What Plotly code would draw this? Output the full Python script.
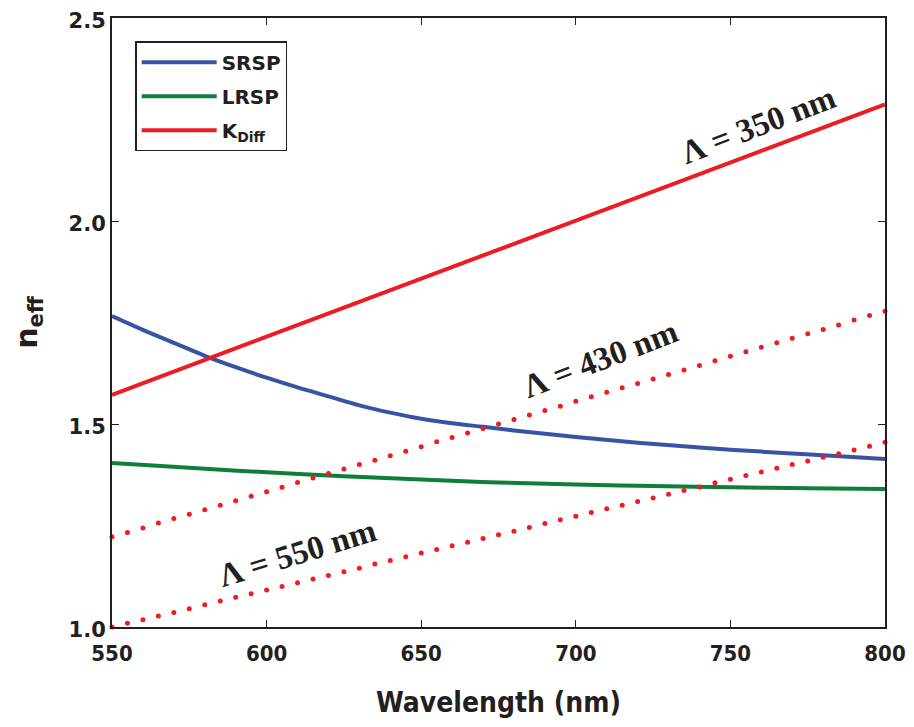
import plotly.graph_objects as go

# ---------------- data ----------------
wl_srsp = [550, 560, 570, 580, 590, 600, 610, 620, 630, 640, 650, 660, 670, 680, 690, 700, 720, 740, 760, 780, 800]
n_srsp = [1.766, 1.732, 1.700, 1.668, 1.640, 1.614, 1.590, 1.568, 1.546, 1.528, 1.513, 1.502, 1.493, 1.484, 1.476, 1.468, 1.454, 1.442, 1.432, 1.423, 1.414]

wl_lrsp = [550, 575, 600, 625, 650, 675, 700, 725, 750, 775, 800]
n_lrsp = [1.404, 1.392, 1.381, 1.371, 1.363, 1.356, 1.351, 1.347, 1.344, 1.342, 1.340]

wl_k350 = [550, 600, 650, 700, 750, 800]
n_k350 = [1.572, 1.715, 1.858, 2.001, 2.144, 2.287]

wl_dots = [550, 555, 560, 565, 570, 575, 580, 585, 590, 595,
           600, 605, 610, 615, 620, 625, 630, 635, 640, 645,
           650, 655, 660, 665, 670, 675, 680, 685, 690, 695,
           700, 705, 710, 715, 720, 725, 730, 735, 740, 745,
           750, 755, 760, 765, 770, 775, 780, 785, 790, 795, 800]
n_k430 = [1.222, 1.233, 1.244, 1.256, 1.267, 1.278, 1.289, 1.300, 1.311, 1.322,
          1.333, 1.344, 1.356, 1.367, 1.378, 1.389, 1.400, 1.411, 1.422, 1.433,
          1.444, 1.456, 1.467, 1.478, 1.489, 1.500, 1.511, 1.522, 1.533, 1.544,
          1.556, 1.567, 1.578, 1.589, 1.600, 1.611, 1.622, 1.633, 1.644, 1.656,
          1.667, 1.678, 1.689, 1.700, 1.711, 1.722, 1.733, 1.744, 1.756, 1.767, 1.778]
n_k550 = [1.000, 1.009, 1.018, 1.027, 1.036, 1.045, 1.055, 1.064, 1.073, 1.082,
          1.091, 1.100, 1.109, 1.118, 1.127, 1.136, 1.145, 1.155, 1.164, 1.173,
          1.182, 1.191, 1.200, 1.209, 1.218, 1.227, 1.236, 1.245, 1.255, 1.264,
          1.273, 1.282, 1.291, 1.300, 1.309, 1.318, 1.327, 1.336, 1.345, 1.355,
          1.364, 1.373, 1.382, 1.391, 1.400, 1.409, 1.418, 1.427, 1.436, 1.445, 1.455]

x_ticks = [550, 600, 650, 700, 750, 800]
y_ticks = [1.0, 1.5, 2.0, 2.5]

labels = ["Λ = 350 nm", "Λ = 430 nm", "Λ = 550 nm"]
label_x = [759, 708, 610]
label_y = [2.236, 1.660, 1.182]
label_angle = [-21, -21, -17]

BLUE = "#3953A4"
GREEN = "#0E7E3B"
RED = "#ED1C24"
INK = "#231F20"

fig = go.Figure()
fig.add_trace(go.Scatter(x=wl_srsp, y=n_srsp, mode="lines", name="SRSP",
                         line=dict(color=BLUE, width=4, shape="spline"),
                         legendgroup="a", cliponaxis=False))
fig.add_trace(go.Scatter(x=wl_lrsp, y=n_lrsp, mode="lines", name="LRSP",
                         line=dict(color=GREEN, width=4, shape="spline"),
                         legendgroup="b", cliponaxis=False))
fig.add_trace(go.Scatter(x=wl_k350, y=n_k350, mode="lines", name="K<sub>Diff</sub>",
                         line=dict(color=RED, width=4),
                         legendgroup="c", cliponaxis=False))
fig.add_trace(go.Scatter(x=wl_dots, y=n_k430, mode="markers", showlegend=False,
                         marker=dict(color=RED, size=5), cliponaxis=False))
fig.add_trace(go.Scatter(x=wl_dots, y=n_k550, mode="markers", showlegend=False,
                         marker=dict(color=RED, size=5), cliponaxis=False))

for t, x, y, a in zip(labels, label_x, label_y, label_angle):
    fig.add_annotation(x=x, y=y, text="<b>%s</b>" % t, showarrow=False,
                       textangle=a, xref="x", yref="y",
                       font=dict(family="Liberation Serif", size=33, color=INK))

axis_common = dict(showline=True, linecolor=INK, linewidth=2, mirror="ticks",
                   ticks="inside", ticklen=7, tickwidth=1, tickcolor=INK,
                   showgrid=False, zeroline=False, automargin=False,
                   ticklabeloverflow="allow")

# the page adds an 8 px body margin, so the figure is 8 px smaller each way
fig.update_layout(
    width=906, height=719,
    margin=dict(l=104, r=29, t=10, b=100),
    paper_bgcolor="white", plot_bgcolor="white",
    showlegend=True,
    legend=dict(x=0.03, y=0.962, xanchor="left", yanchor="top",
                bgcolor="white", bordercolor=INK, borderwidth=1.5,
                font=dict(family="DejaVu Sans", size=20, color=INK, weight="bold"),
                itemwidth=75, tracegroupgap=5, traceorder="grouped"),
    xaxis=dict(range=[550, 800], tickvals=x_ticks, ticklabelstandoff=6,
               tickfont=dict(family="DejaVu Sans Condensed, DejaVu Sans", size=22, color=INK, weight="bold"),
               title=dict(text="Wavelength (nm)", standoff=27,
                          font=dict(family="DejaVu Sans Condensed, DejaVu Sans", size=28, color=INK, weight="bold")),
               **axis_common),
    yaxis=dict(range=[1.0, 2.5], tickvals=y_ticks, tickformat=".1f",
               ticklabelshift=3,
               tickfont=dict(family="DejaVu Sans", size=21, color=INK, weight="bold"),
               title=dict(text="n<sub>eff</sub>", standoff=22,
                          font=dict(family="DejaVu Sans", size=30, color=INK, weight="bold")),
               **axis_common),
)

fig.write_html("out.html")
